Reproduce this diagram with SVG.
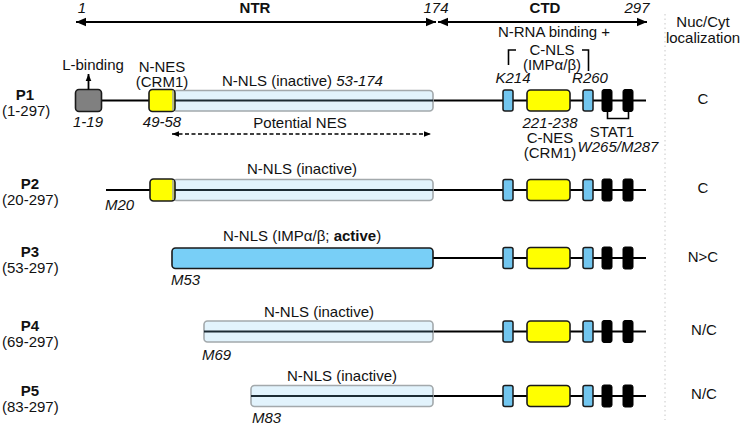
<svg xmlns="http://www.w3.org/2000/svg" width="749" height="426" viewBox="0 0 749 426">
<defs>
<marker id="ah" viewBox="0 0 10 10" refX="10" refY="5" markerWidth="10" markerHeight="10" markerUnits="userSpaceOnUse" orient="auto-start-reverse"><path d="M0,0.8 L10,5 L0,9.2 Z" fill="#000"/></marker>
<marker id="ahs" viewBox="0 0 10 10" refX="10" refY="5" markerWidth="7" markerHeight="7" markerUnits="userSpaceOnUse" orient="auto-start-reverse"><path d="M0,1 L10,5 L0,9 Z" fill="#000"/></marker>
<style>
text{font-family:"Liberation Sans",Arial,sans-serif;font-size:15px;fill:#111}
.b{font-weight:bold}
.i{font-style:italic}
.m{text-anchor:middle}
.bb{stroke:#000;stroke-width:2;fill:none}
.inl{fill:#e2f3fc;stroke:#a3a9ac;stroke-width:1.6}
.inc{stroke:#1c2b33;stroke-width:2.2}
.yel{fill:#ffff00;stroke:#1a1a1a;stroke-width:1.6}
.sb{fill:#72c6ef;stroke:#1a1a1a;stroke-width:1.5}
.blk{fill:#000;stroke:#000;stroke-width:1}
.act{fill:#78cff7;stroke:#1a1a1a;stroke-width:1.6}
</style>
<g id="ctd">
<rect class="sb" x="503" y="-10.5" width="10" height="21" rx="2"/>
<rect class="yel" x="527" y="-10.5" width="43" height="21" rx="3.5"/>
<rect class="sb" x="583" y="-10.5" width="10" height="21" rx="2"/>
<rect class="blk" x="602" y="-11" width="10" height="22" rx="2"/>
<rect class="blk" x="623" y="-11" width="10" height="22" rx="2"/>
</g>
</defs>

<g id="axis">
<line x1="76" y1="22" x2="436" y2="22" stroke="#000" stroke-width="2" marker-start="url(#ah)" marker-end="url(#ah)"/>
<line x1="438" y1="22" x2="647" y2="22" stroke="#000" stroke-width="2" marker-start="url(#ah)" marker-end="url(#ah)"/>
<text class="i m" x="82" y="13">1</text>
<text class="b m" x="255" y="13">NTR</text>
<text class="i m" x="436" y="13">174</text>
<text class="b m" x="545" y="13">CTD</text>
<text class="i m" x="637" y="13">297</text>
<text class="m" x="703" y="27">Nuc/Cyt</text>
<text class="m" x="703" y="43">localization</text>
<line x1="665" y1="14" x2="665" y2="420" stroke="#c8c8c8" stroke-width="1" stroke-dasharray="1.5,3"/>
</g>

<g id="P1">
<text class="b m" x="25" y="100">P1</text>
<text x="2" y="116">(1-297)</text>
<line class="bb" x1="102" y1="100.5" x2="646" y2="100.5"/>
<rect x="75.5" y="89.5" width="26" height="22" rx="3.5" fill="#808080" stroke="#1a1a1a" stroke-width="1.6"/>
<line x1="88.5" y1="89.5" x2="88.5" y2="74" stroke="#000" stroke-width="1.8" marker-end="url(#ahs)"/>
<rect class="inl" x="173" y="90.5" width="260" height="20.5" rx="3.5"/>
<line class="inc" x1="173" y1="100.5" x2="433" y2="100.5"/>
<rect class="yel" x="149" y="89.5" width="26" height="22" rx="3.5"/>
<line x1="173" y1="90.5" x2="173" y2="110.5" stroke="#a3a9ac" stroke-width="1.6"/>
<use href="#ctd" y="100.5"/>
<text class="m" x="93" y="70">L-binding</text>
<text class="m" x="162" y="72">N-NES</text>
<text class="m" x="162" y="87">(CRM1)</text>
<text x="222" y="86">N-NLS (inactive) <tspan class="i">53-174</tspan></text>
<text class="i m" x="88" y="127">1-19</text>
<text class="i m" x="162" y="127">49-58</text>
<text class="m" x="300" y="128">Potential NES</text>
<line x1="172" y1="134" x2="431" y2="134" stroke="#000" stroke-width="1.5" stroke-dasharray="4,2.5" marker-start="url(#ahs)" marker-end="url(#ahs)"/>
<text class="m" x="554" y="37">N-RNA binding +</text>
<text class="m" x="552" y="55">C-NLS</text>
<text class="m" x="552" y="70">(IMPα/β)</text>
<path d="M516,50 H508.5 V65" fill="none" stroke="#000" stroke-width="1.6"/>
<path d="M582,50 H588.5 V71" fill="none" stroke="#000" stroke-width="1.6"/>
<text class="i m" x="513" y="83">K214</text>
<text class="i m" x="590" y="83">R260</text>
<text class="i m" x="550" y="128">221-238</text>
<text class="m" x="550" y="143">C-NES</text>
<text class="m" x="550" y="158">(CRM1)</text>
<path d="M607.5,111 V118.5 H628.5 V111" fill="none" stroke="#000" stroke-width="1.6"/>
<text class="m" x="612" y="137">STAT1</text>
<text class="i m" x="618" y="152">W265/M287</text>
<text class="m" x="703" y="104">C</text>
</g>

<g id="P2">
<text class="b m" x="30" y="189">P2</text>
<text x="2" y="205">(20-297)</text>
<line class="bb" x1="106" y1="190" x2="646" y2="190"/>
<rect class="inl" x="173" y="179.5" width="260" height="21" rx="3.5"/>
<line class="inc" x1="173" y1="190" x2="433" y2="190"/>
<rect class="yel" x="150" y="179" width="25" height="22" rx="3.5"/>
<line x1="173" y1="180" x2="173" y2="200" stroke="#a3a9ac" stroke-width="1.6"/>
<use href="#ctd" y="190"/>
<text class="m" x="302" y="174">N-NLS (inactive)</text>
<text class="i" x="105" y="210">M20</text>
<text class="m" x="703" y="193">C</text>
</g>

<g id="P3">
<text class="b m" x="30" y="257">P3</text>
<text x="2" y="273">(53-297)</text>
<line class="bb" x1="433" y1="258" x2="646" y2="258"/>
<rect class="act" x="172" y="248" width="261" height="20.5" rx="3.5"/>
<use href="#ctd" y="258"/>
<text x="223" y="241">N-NLS (IMPα/β; <tspan class="b">active</tspan>)</text>
<text class="i" x="171" y="285">M53</text>
<text class="m" x="703" y="262">N&gt;C</text>
</g>

<g id="P4">
<text class="b m" x="30" y="331">P4</text>
<text x="2" y="347">(69-297)</text>
<line class="bb" x1="433" y1="331.5" x2="646" y2="331.5"/>
<rect class="inl" x="204" y="321" width="229" height="21" rx="3.5"/>
<line class="inc" x1="204" y1="331.5" x2="433" y2="331.5"/>
<use href="#ctd" y="331.5"/>
<text class="m" x="319" y="317">N-NLS (inactive)</text>
<text class="i" x="202" y="360">M69</text>
<text class="m" x="704" y="335">N/C</text>
</g>

<g id="P5">
<text class="b m" x="30" y="396">P5</text>
<text x="2" y="412">(83-297)</text>
<line class="bb" x1="433" y1="396" x2="646" y2="396"/>
<rect class="inl" x="251" y="385.5" width="182" height="21" rx="3.5"/>
<line class="inc" x1="251" y1="396" x2="433" y2="396"/>
<use href="#ctd" y="396"/>
<text class="m" x="342" y="381">N-NLS (inactive)</text>
<text class="i" x="252" y="423">M83</text>
<text class="m" x="704" y="399">N/C</text>
</g>
</svg>
